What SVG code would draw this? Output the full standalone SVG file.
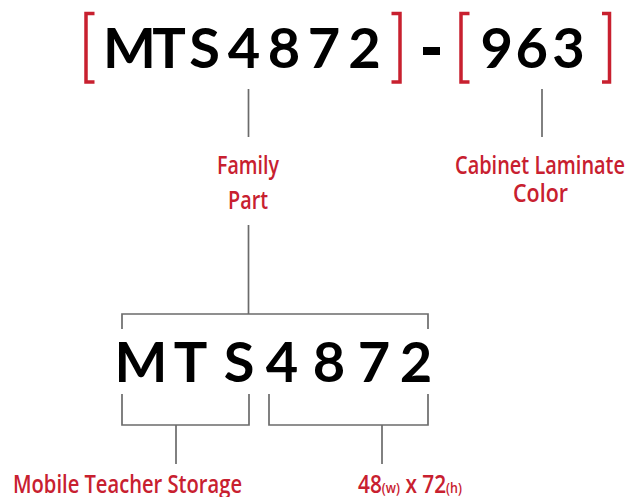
<svg xmlns="http://www.w3.org/2000/svg" width="629" height="497" viewBox="0 0 629 497">
<style>
.code{font-family:Lato,"Open Sans","Liberation Sans",sans-serif;font-weight:700;font-size:56px;fill:#000;text-anchor:middle}
.lbl{font-family:"Open Sans","Liberation Sans",sans-serif;font-weight:600;font-size:25px;fill:#c8202f;text-anchor:middle}
.brk{fill:none;stroke:#c8202f;stroke-width:3.5;stroke-linejoin:miter}
.con{fill:none;stroke:#6b6b6b;stroke-width:1.7}
</style>
<rect width="629" height="497" fill="#fff"/>
<g id="top-code">
<path class="brk" d="M94.5,13.5H86V82H94.5"/>
<text class="code" x="129.5 169 204.5 244 284 324 364.5" y="68">MTS4872</text>
<path class="brk" d="M391.5,13.5H400V82H391.5"/>
<rect x="423" y="47" width="17" height="8" fill="#000"/>
<path class="brk" d="M469.5,13.5H461V82H469.5"/>
<text class="code" x="496.7 531.7 568.5" y="68">963</text>
<path class="brk" d="M602,13.5H609.5V82H602"/>
</g>
<g id="family-part">
<text class="lbl" transform="translate(248,174) scale(0.82,1)" textLength="75.6" lengthAdjust="spacingAndGlyphs">Family</text>
<text class="lbl" transform="translate(248,209) scale(0.82,1)" textLength="48.8" lengthAdjust="spacingAndGlyphs">Part</text>
</g>
<g id="cabinet-color">
<text class="lbl" transform="translate(540,174) scale(0.82,1)" textLength="207.3" lengthAdjust="spacingAndGlyphs">Cabinet Laminate</text>
<text class="lbl" transform="translate(540.5,202) scale(0.82,1)" textLength="67" lengthAdjust="spacingAndGlyphs">Color</text>
</g>
<g id="bottom-code">
<text class="code" x="141 190.5 239 282 329 374 416" y="382">MTS4872</text>
</g>
<g id="mobile-teacher">
<text class="lbl" transform="translate(127.5,493) scale(0.82,1)" textLength="279.3" lengthAdjust="spacingAndGlyphs">Mobile Teacher Storage</text>
</g>
<g id="size">
<text class="lbl" transform="translate(410,493) scale(0.82,1)" textLength="126.8" lengthAdjust="spacingAndGlyphs">48<tspan font-size="15">(w)</tspan> x 72<tspan font-size="15">(h)</tspan></text>
</g>
<g id="connectors">
<path class="con" d="M248.5,89V137"/>
<path class="con" d="M542,89V137"/>
<path class="con" d="M248.5,225V314"/>
<path class="con" d="M122,329V314H428V329"/>
<path class="con" d="M122,394V425H249V394"/>
<path class="con" d="M269,394V425H428V394"/>
<path class="con" d="M176,425V464"/>
<path class="con" d="M382,425V464"/>
</g>
</svg>
